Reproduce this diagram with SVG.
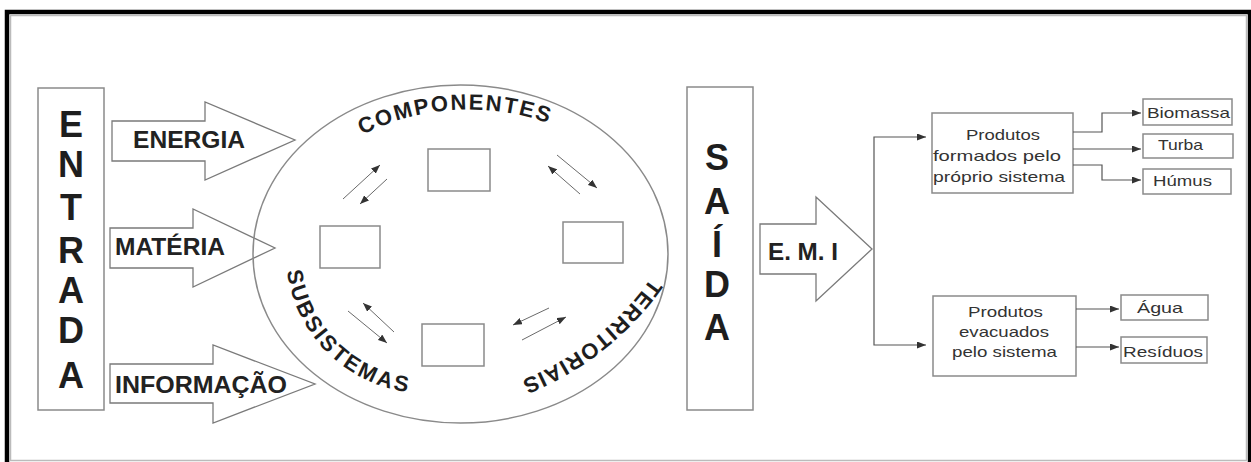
<svg xmlns="http://www.w3.org/2000/svg" width="1251" height="462" viewBox="0 0 1251 462">
  <style>
    .box { fill: none; stroke: #8a8a8a; stroke-width: 1.5; }
    .blk { fill: none; stroke: #7a7a7a; stroke-width: 1.3; }
    .big { font-family: "Liberation Sans", Arial, sans-serif; font-weight: bold; font-size: 36px; fill: #1e1e1e; text-anchor: middle; }
    .lbl { font-family: "Liberation Sans", Arial, sans-serif; font-weight: bold; font-size: 23px; fill: #222; }
    .arc { font-family: "Liberation Sans", Arial, sans-serif; font-weight: bold; font-size: 22px; fill: #1e1e1e; }
    .sm { font-family: "Liberation Sans", Arial, sans-serif; font-size: 15px; fill: #333; }
    .mini { fill: none; stroke: #6a6a6a; stroke-width: 1; marker-end: url(#tip); }
    .con { fill: none; stroke: #555; stroke-width: 1.2; marker-end: url(#tip); }
  </style>
  <defs>
    <marker id="tip" markerUnits="userSpaceOnUse" markerWidth="9" markerHeight="7" refX="9" refY="3.5" orient="auto">
      <path d="M0,0 L9,3.5 L0,7 z" fill="#333"/>
    </marker>
    <path id="arcTop" d="M 362 135 A 238 238 0 0 1 548 123"/>
    <path id="arcLeft" d="M 287 271 A 140 140 0 0 0 408 392"/>
    <path id="arcRight" d="M 651 278 A 290 290 0 0 1 517 382"/>
  </defs>

  <rect width="1251" height="462" fill="#fff"/>

  <!-- page frame -->
  <rect x="7" y="12" width="1243" height="470" fill="none" stroke="#000" stroke-width="4.5"/>
  <rect x="10.5" y="15.5" width="1236" height="445" fill="none" stroke="#bbb" stroke-width="1.5"/>

  <!-- input column -->
  <g id="entrada">
    <rect class="box" x="38" y="88" width="66" height="322"/>
    <text class="big" x="71" y="137">E</text>
    <text class="big" x="71" y="177">N</text>
    <text class="big" x="71" y="220">T</text>
    <text class="big" x="71" y="263">R</text>
    <text class="big" x="71" y="303">A</text>
    <text class="big" x="71" y="343">D</text>
    <text class="big" x="71" y="388">A</text>
  </g>

  <!-- input flows -->
  <g id="energia">
    <polygon class="blk" points="112,121 205,121 205,102 295,140 205,180 205,161 112,161"/>
    <text class="lbl" x="133" y="148" textLength="112" lengthAdjust="spacingAndGlyphs">ENERGIA</text>
  </g>
  <g id="materia">
    <polygon class="blk" points="110,228 193,228 193,209 275,248 193,287 193,268 110,268"/>
    <text class="lbl" x="115" y="255" textLength="110" lengthAdjust="spacingAndGlyphs">MATÉRIA</text>
  </g>
  <g id="informacao">
    <polygon class="blk" points="110,364 213,364 213,345 315,384 213,423 213,403 110,403"/>
    <text class="lbl" x="115" y="393" textLength="172" lengthAdjust="spacingAndGlyphs">INFORMAÇÃO</text>
  </g>

  <!-- the system -->
  <g id="sistema">
    <ellipse class="box" cx="460.5" cy="254" rx="207.5" ry="169" stroke-width="1.3"/>
    <text class="arc" letter-spacing="1.9"><textPath href="#arcTop">COMPONENTES</textPath></text>
    <text class="arc" letter-spacing="2.4"><textPath href="#arcLeft">SUBSISTEMAS</textPath></text>
    <text class="arc" letter-spacing="1.1"><textPath href="#arcRight">TERRITORIAIS</textPath></text>
  </g>
  <g id="comp-top"><rect class="box" x="428" y="149" width="62" height="42"/></g>
  <g id="comp-left"><rect class="box" x="320" y="226" width="60" height="42"/></g>
  <g id="comp-right"><rect class="box" x="563" y="222" width="60" height="41"/></g>
  <g id="comp-bottom"><rect class="box" x="422" y="324" width="62" height="42"/></g>

  <!-- exchanges between components -->
  <g id="trocas">
    <line class="mini" x1="343" y1="199" x2="380" y2="165"/>
    <line class="mini" x1="387" y1="179" x2="360" y2="204"/>
    <line class="mini" x1="580" y1="194" x2="548" y2="166"/>
    <line class="mini" x1="557" y1="155" x2="597" y2="188"/>
    <line class="mini" x1="394" y1="332" x2="363" y2="303"/>
    <line class="mini" x1="348" y1="311" x2="387" y2="343"/>
    <line class="mini" x1="549" y1="308" x2="513" y2="325"/>
    <line class="mini" x1="522" y1="340" x2="566" y2="317"/>
  </g>

  <!-- output column -->
  <g id="saida">
    <rect class="box" x="687" y="87" width="66" height="323"/>
    <text class="big" x="717" y="170" font-size="33">S</text>
    <text class="big" x="717" y="214" font-size="33">A</text>
    <text class="big" x="717" y="257" font-size="33">Í</text>
    <text class="big" x="717" y="297" font-size="33">D</text>
    <text class="big" x="717" y="340" font-size="33">A</text>
  </g>
  <g id="emi">
    <polygon class="blk" points="760,224 816,224 816,197 872,249 816,301 816,274 760,274"/>
    <text class="lbl" x="768" y="260" textLength="70" lengthAdjust="spacingAndGlyphs">E. M. I</text>
  </g>

  <!-- products -->
  <g id="formados">
    <rect class="box" x="932" y="113" width="141" height="80"/>
    <text class="sm" x="966" y="140" textLength="74" lengthAdjust="spacingAndGlyphs">Produtos</text>
    <text class="sm" x="933" y="161" textLength="128" lengthAdjust="spacingAndGlyphs">formados pelo</text>
    <text class="sm" x="933" y="182" textLength="132" lengthAdjust="spacingAndGlyphs">próprio sistema</text>
  </g>
  <g id="evacuados">
    <rect class="box" x="933" y="296" width="143" height="80"/>
    <text class="sm" x="968" y="317" textLength="75" lengthAdjust="spacingAndGlyphs">Produtos</text>
    <text class="sm" x="959" y="337" textLength="90" lengthAdjust="spacingAndGlyphs">evacuados</text>
    <text class="sm" x="952" y="357" textLength="105" lengthAdjust="spacingAndGlyphs">pelo sistema</text>
  </g>
  <g id="biomassa">
    <rect class="box" x="1143" y="99" width="89" height="26"/>
    <text class="sm" x="1147" y="118" textLength="83" lengthAdjust="spacingAndGlyphs">Biomassa</text>
  </g>
  <g id="turba">
    <rect class="box" x="1143" y="134" width="90" height="24"/>
    <text class="sm" x="1158" y="150" textLength="45" lengthAdjust="spacingAndGlyphs">Turba</text>
  </g>
  <g id="humus">
    <rect class="box" x="1143" y="169" width="88" height="25"/>
    <text class="sm" x="1153" y="186" textLength="59" lengthAdjust="spacingAndGlyphs">Húmus</text>
  </g>
  <g id="agua">
    <rect class="box" x="1121" y="295" width="87" height="25"/>
    <text class="sm" x="1137" y="313" textLength="46" lengthAdjust="spacingAndGlyphs">Água</text>
  </g>
  <g id="residuos">
    <rect class="box" x="1121" y="337" width="86" height="26"/>
    <text class="sm" x="1123" y="357" textLength="80" lengthAdjust="spacingAndGlyphs">Resíduos</text>
  </g>

  <!-- connectors -->
  <g id="conectores">
    <path class="con" d="M 874 241 V 137 H 926"/>
    <path class="con" d="M 874 241 V 345 H 926"/>
    <path class="con" d="M 1073 132 H 1102 V 113 H 1141"/>
    <path class="con" d="M 1073 149 H 1141"/>
    <path class="con" d="M 1073 165 H 1102 V 180 H 1141"/>
    <path class="con" d="M 1076 309 H 1119"/>
    <path class="con" d="M 1076 347 H 1119"/>
  </g>
</svg>
